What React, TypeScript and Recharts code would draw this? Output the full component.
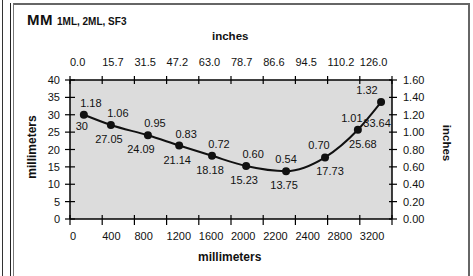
import { LineChart, Line, XAxis, YAxis, CartesianGrid, LabelList } from "recharts";

// horizontal position of each measurement, in tick steps along the axis
const positions = [0.43, 1.27, 2.42, 3.39, 4.41, 5.47, 6.71, 7.92, 8.94, 9.66];
const mmValues = [30, 27.05, 24.09, 21.14, 18.18, 15.23, 13.75, 17.73, 25.68, 33.64];
const inchValues = [1.18, 1.06, 0.95, 0.83, 0.72, 0.6, 0.54, 0.7, 1.01, 1.32];

const mmTickLabels = ["0", "400", "800", "1200", "1600", "2000", "2200", "2400", "2800", "3200"];
const inchTickLabels = ["0.0", "15.7", "31.5", "47.2", "63.0", "78.7", "86.6", "94.5", "110.2", "126.0"];
const xTicks = [0, 1, 2, 3, 4, 5, 6, 7, 8, 9, 10];
const mmAxisTicks = [0, 5, 10, 15, 20, 25, 30, 35, 40];
const inchAxisTicks = [0, 0.2, 0.4, 0.6, 0.8, 1.0, 1.2, 1.4, 1.6];

const data = positions.map((pos, i) => ({
  pos,
  mm: mmValues[i],
  inch: inchValues[i],
}));

const font = "'Liberation Sans', Arial, sans-serif";
const txt = { fontFamily: font, fontSize: 11, fill: "#111" };
const last = positions.length - 1;

const BottomTick = ({ x, y, payload }: any) => (
  <g>
    <line x1={x} x2={x} y1={y - 4} y2={y + 6} stroke="#000" strokeWidth={1.2} />
    {mmTickLabels[payload.value] !== undefined && (
      <text x={x} y={y + 21} textAnchor="start" {...txt}>
        {mmTickLabels[payload.value]}
      </text>
    )}
  </g>
);

const TopTick = ({ x, y, payload }: any) => (
  <g>
    <line x1={x} x2={x} y1={y - 4} y2={y + 4} stroke="#000" strokeWidth={1.2} />
    {inchTickLabels[payload.value] !== undefined && (
      <text x={x} y={y - 14} textAnchor="start" {...txt}>
        {inchTickLabels[payload.value]}
      </text>
    )}
  </g>
);

const LeftTick = ({ x, y, payload }: any) => (
  <g>
    <line x1={x - 5} x2={x + 5} y1={y} y2={y} stroke="#000" strokeWidth={1.2} />
    <text x={x - 10} y={y + 4} textAnchor="end" {...txt}>
      {payload.value}
    </text>
  </g>
);

const RightTick = ({ x, y, payload }: any) => (
  <g>
    <line x1={x - 3} x2={x + 5} y1={y} y2={y} stroke="#000" strokeWidth={1.2} />
    <text x={x + 11} y={y + 4} textAnchor="start" {...txt}>
      {Number(payload.value).toFixed(2)}
    </text>
  </g>
);

// inch value sits above the point, pushed away from the rising side of the curve
const InchLabel = ({ x, y, value, index }: any) => {
  let dx = 7;
  if (index === 6) dx = 0;
  if (index > 6) dx = -6;
  if (index === last) dx = -14;
  return (
    <text x={x + dx} y={y - 8} textAnchor="middle" {...txt}>
      {Number(value).toFixed(2)}
    </text>
  );
};

// millimetre value sits below the point
const MmLabel = ({ x, y, value, index }: any) => {
  let dx = -2;
  let dy = 18;
  if (index === 0) dy = 15;
  if (index === 2) dx = -7;
  if (index === 7 || index === 8) dx = 5;
  if (index === last) {
    dx = -4;
    dy = 25;
  }
  return (
    <text x={x + dx} y={y + dy} textAnchor="middle" {...txt}>
      {value}
    </text>
  );
};

export default function App() {
  return (
    <div
      style={{
        position: "absolute",
        left: 0,
        top: 0,
        width: 473,
        height: 276,
        background: "#fff",
        overflow: "hidden",
        fontFamily: font,
      }}
    >
      {/* frame lines */}
      <div style={{ position: "absolute", left: 2, top: 0, width: 1, height: 276, background: "#333" }} />
      <div style={{ position: "absolute", left: 10, top: 3, width: 1, height: 276, background: "#222" }} />
      <div
        style={{
          position: "absolute",
          left: 13,
          top: 3,
          width: 454,
          height: 280,
          borderLeft: "1px solid #777",
          borderTop: "2px solid #666",
          borderRight: "2px solid #666",
        }}
      />

      <div style={{ position: "absolute", left: 27, top: 11, whiteSpace: "nowrap", color: "#111" }}>
        <span style={{ fontSize: 15, fontWeight: 900, letterSpacing: 0.5 }}>MM</span>
        <span style={{ fontSize: 10, fontWeight: 700, marginLeft: 4 }}>1ML, 2ML, SF3</span>
      </div>
      <div style={{ position: "absolute", left: 212, top: 30, fontSize: 11.5, fontWeight: 700, color: "#111" }}>
        inches
      </div>
      <div style={{ position: "absolute", left: 198, top: 250, fontSize: 12, fontWeight: 700, color: "#111" }}>
        millimeters
      </div>
      <div
        style={{
          position: "absolute",
          left: 32,
          top: 147,
          fontSize: 12,
          fontWeight: 700,
          color: "#111",
          transform: "translate(-50%, -50%) rotate(-90deg)",
          whiteSpace: "nowrap",
        }}
      >
        millimeters
      </div>
      <div
        style={{
          position: "absolute",
          left: 447,
          top: 143,
          fontSize: 11.5,
          fontWeight: 700,
          color: "#111",
          transform: "translate(-50%, -50%) rotate(90deg)",
          whiteSpace: "nowrap",
        }}
      >
        inches
      </div>

      <LineChart
        width={473}
        height={276}
        data={data}
        margin={{ top: 0, right: 0, bottom: 0, left: 0 }}
        style={{ position: "absolute", left: 0, top: 0 }}
      >
        <CartesianGrid horizontal={false} vertical={false} fill="#dcdcdc" xAxisId="bottom" yAxisId="mm" />
        <XAxis
          xAxisId="bottom"
          dataKey="pos"
          type="number"
          domain={[0, 10]}
          ticks={xTicks}
          interval={0}
          height={57}
          tickSize={0}
          tickMargin={0}
          tickLine={false}
          tick={<BottomTick />}
          axisLine={{ stroke: "#000", strokeWidth: 1.5 }}
        />
        <XAxis
          xAxisId="top"
          orientation="top"
          dataKey="pos"
          type="number"
          domain={[0, 10]}
          ticks={xTicks}
          interval={0}
          height={80}
          tickSize={0}
          tickMargin={0}
          tickLine={false}
          tick={<TopTick />}
          axisLine={{ stroke: "#000", strokeWidth: 1.5 }}
        />
        <YAxis
          yAxisId="mm"
          domain={[0, 40]}
          ticks={mmAxisTicks}
          interval={0}
          width={70}
          tickSize={0}
          tickMargin={0}
          tickLine={false}
          tick={<LeftTick />}
          axisLine={{ stroke: "#000", strokeWidth: 1.5 }}
        />
        <YAxis
          yAxisId="in"
          orientation="right"
          domain={[0, 1.6]}
          ticks={inchAxisTicks}
          interval={0}
          width={81}
          tickSize={0}
          tickMargin={0}
          tickLine={false}
          tick={<RightTick />}
          axisLine={{ stroke: "#000", strokeWidth: 1.5 }}
        />
        <Line
          xAxisId="top"
          yAxisId="in"
          dataKey="inch"
          stroke="none"
          dot={false}
          activeDot={false}
          isAnimationActive={false}
        />
        <Line
          xAxisId="bottom"
          yAxisId="mm"
          type="monotone"
          dataKey="mm"
          stroke="#111"
          strokeWidth={2}
          dot={{ r: 4, fill: "#111", stroke: "#111", strokeWidth: 0 }}
          activeDot={false}
          isAnimationActive={false}
        >
          <LabelList dataKey="inch" content={<InchLabel />} />
          <LabelList dataKey="mm" content={<MmLabel />} />
        </Line>
      </LineChart>
    </div>
  );
}
